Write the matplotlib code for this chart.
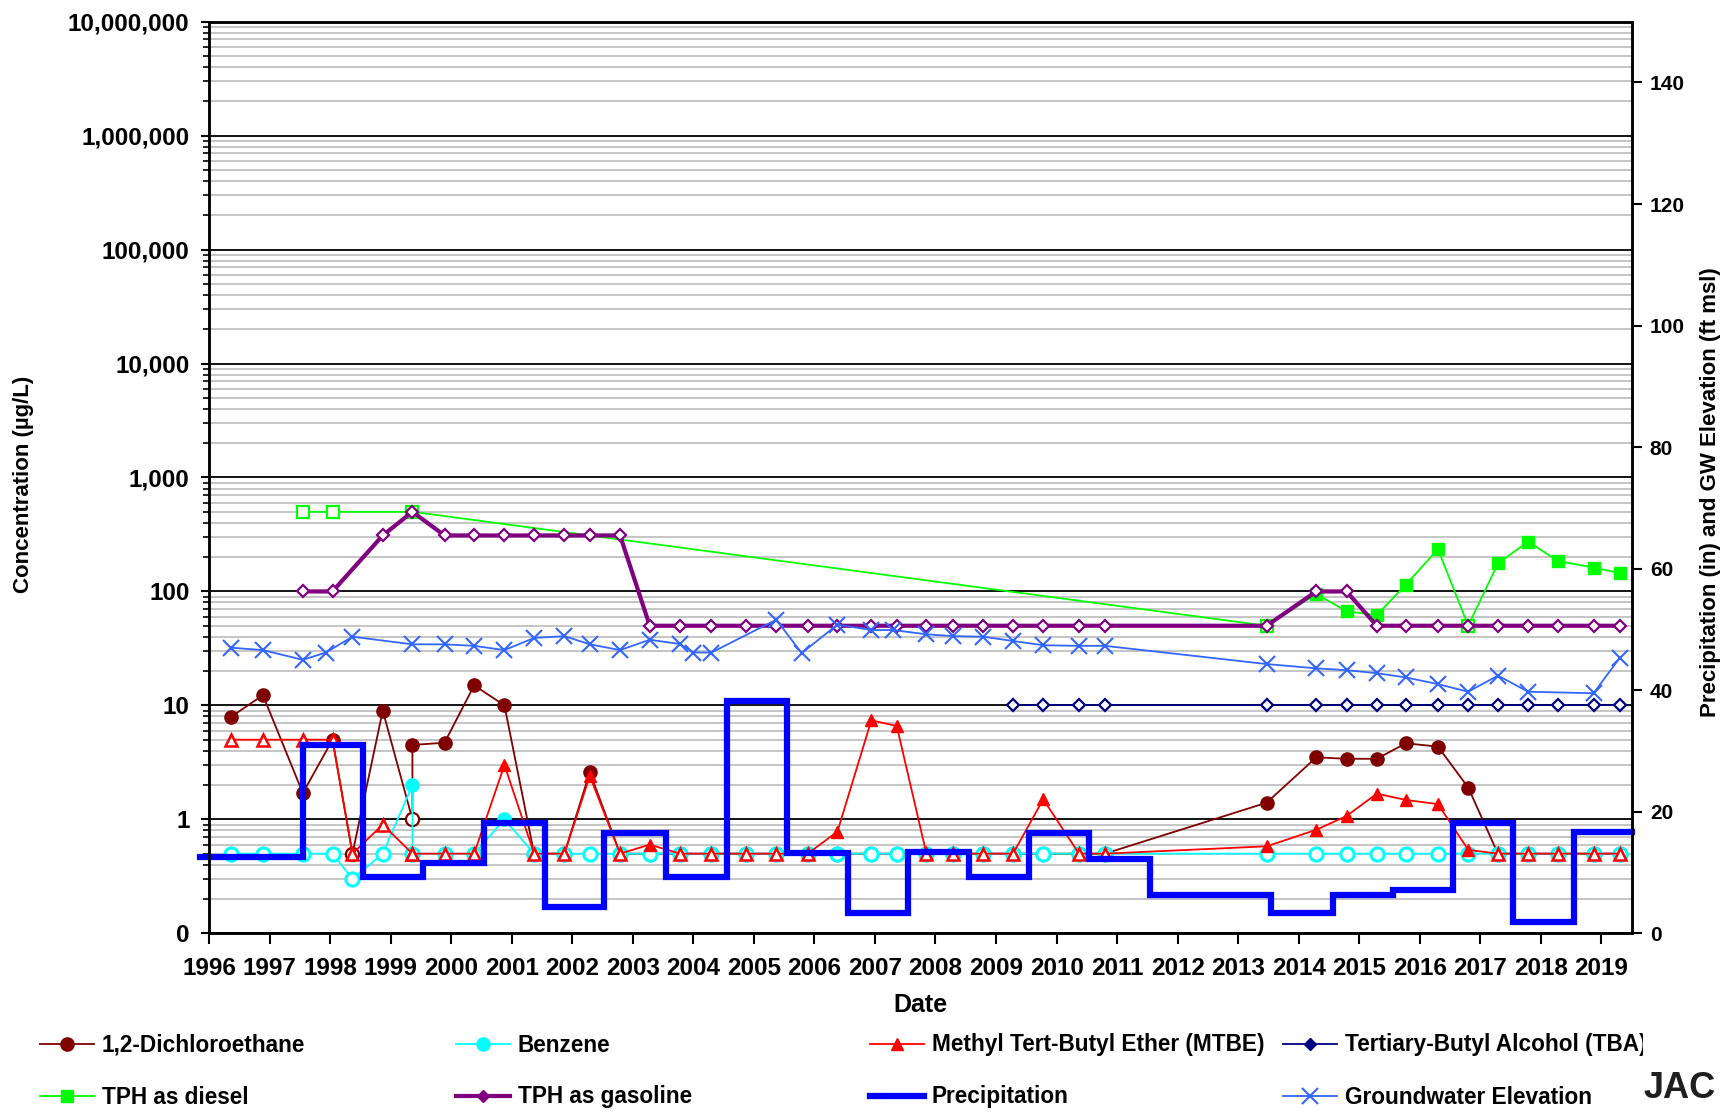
import matplotlib.pyplot as plt
from matplotlib.lines import Line2D
from matplotlib.patches import Rectangle
from matplotlib.ticker import FixedLocator, FixedFormatter, LogLocator, NullFormatter

plt.rcParams['font.family'] = ['Liberation Sans', 'DejaVu Sans']
plt.rcParams['font.weight'] = 'bold'
plt.rcParams['axes.labelweight'] = 'bold'

# sampling events (decimal years) shared by DCA, benzene and MTBE
dates = [1996.36, 1996.89, 1997.55, 1998.04, 1998.37, 1998.87, 1999.36, 1999.36,
         1999.89, 2000.38, 2000.88, 2001.37, 2001.87, 2002.29, 2002.79, 2003.28,
         2003.78, 2004.30, 2004.87, 2005.37, 2005.89, 2006.38, 2006.94, 2007.36,
         2007.85, 2008.29, 2008.79, 2009.28, 2009.78, 2010.37, 2010.80, 2013.47,
         2014.29, 2014.79, 2015.29, 2015.77, 2016.30, 2016.80, 2017.29, 2017.79,
         2018.28, 2018.87, 2019.30]

dca = [7.9, 12.3, 1.7, 5.0, 0.5, 9.0, 1.0, 4.5, 4.7, 15, 10, 0.5, 0.5, 2.6, 0.5,
       0.5, 0.5, 0.5, 0.5, 0.5, 0.5, 0.5, 0.5, 0.5, 0.5, 0.5, 0.5, 0.5, 0.5, 0.5, 0.5,
       1.4, 3.5, 3.4, 3.4, 4.65, 4.35, 1.9, 0.5, 0.5, 0.5, 0.5, 0.5]
dca_det = [1, 1, 1, 1, 0, 1, 0, 1, 1, 1, 1, 0, 0, 1, 0,
           0, 0, 0, 0, 0, 0, 0, 0, 0, 0, 0, 0, 0, 0, 0, 0,
           1, 1, 1, 1, 1, 1, 1, 0, 0, 0, 0, 0]

benzene = [0.5, 0.5, 0.5, 0.5, 0.3, 0.5, 2.0, 0.5, 0.5, 0.5, 1.0, 0.5, 0.5, 0.5, 0.5,
           0.5, 0.5, 0.5, 0.5, 0.5, 0.5, 0.5, 0.5, 0.5, 0.5, 0.5, 0.5, 0.5, 0.5, 0.5, 0.5,
           0.5, 0.5, 0.5, 0.5, 0.5, 0.5, 0.5, 0.5, 0.5, 0.5, 0.5, 0.5]
benzene_det = [0, 0, 0, 0, 0, 0, 1, 0, 0, 0, 1, 0, 0, 0, 0,
               0, 0, 0, 0, 0, 0, 0, 0, 0, 0, 0, 0, 0, 0, 0, 0,
               0, 0, 0, 0, 0, 0, 0, 0, 0, 0, 0, 0]

mtbe = [5, 5, 5, 5, 0.5, 0.9, 0.5, 0.5, 0.5, 0.5, 3.0, 0.5, 0.5, 2.4, 0.5,
        0.6, 0.5, 0.5, 0.5, 0.5, 0.5, 0.78, 7.4, 6.6, 0.5, 0.5, 0.5, 0.5, 1.5, 0.5, 0.5,
        0.58, 0.81, 1.07, 1.68, 1.48, 1.36, 0.54, 0.5, 0.5, 0.5, 0.5, 0.5]
mtbe_det = [0, 0, 0, 0, 0, 0, 0, 0, 0, 0, 1, 0, 0, 1, 0,
            1, 0, 0, 0, 0, 0, 1, 1, 1, 0, 0, 0, 0, 1, 0, 0,
            1, 1, 1, 1, 1, 1, 1, 0, 0, 0, 0, 0]

tba_dates = [2009.28, 2009.78, 2010.37, 2010.80, 2013.47, 2014.29, 2014.79, 2015.29,
             2015.77, 2016.30, 2016.80, 2017.29, 2017.79, 2018.28, 2018.87, 2019.30]
tba = [10, 10, 10, 10, 10, 10, 10, 10, 10, 10, 10, 10, 10, 10, 10, 10]
tba_det = [0, 0, 0, 0, 0, 0, 0, 0, 0, 0, 0, 0, 0, 0, 0, 0]

diesel_dates = [1997.55, 1998.04, 1999.36, 2013.47, 2014.29, 2014.79, 2015.29, 2015.77,
                2016.30, 2016.80, 2017.29, 2017.79, 2018.28, 2018.87, 2019.30]
diesel = [500, 500, 500, 50, 95, 67, 62, 115, 235, 50, 176, 274, 185, 162, 145]
diesel_det = [0, 0, 0, 0, 1, 1, 1, 1, 1, 0, 1, 1, 1, 1, 1]

gas_dates = [1997.55, 1998.04, 1998.87, 1999.36, 1999.89, 2000.38, 2000.88, 2001.37,
             2001.87, 2002.29, 2002.79, 2003.28, 2003.78, 2004.30, 2004.87, 2005.37,
             2005.89, 2006.38, 2006.94, 2007.36, 2007.85, 2008.29, 2008.79, 2009.28,
             2009.78, 2010.37, 2010.80, 2013.47, 2014.29, 2014.79, 2015.29, 2015.77,
             2016.30, 2016.80, 2017.29, 2017.79, 2018.28, 2018.87, 2019.30]
gasoline = [100, 100, 310, 500, 310, 310, 310, 310, 310, 310, 310, 50, 50, 50, 50, 50,
            50, 50, 50, 50, 50, 50, 50, 50, 50, 50, 50, 50, 100, 100, 50, 50,
            50, 50, 50, 50, 50, 50, 50]
gas_det = [0] * len(gasoline)

# water-year precipitation (in), step starts
precip_start = [1995.85, 1997.55, 1998.54, 1999.53, 2000.54, 2001.55, 2002.52, 2003.55,
                2004.55, 2005.54, 2006.56, 2007.54, 2008.56, 2009.55, 2010.54, 2011.54,
                2013.55, 2014.56, 2015.55, 2016.54, 2017.54, 2018.54, 2019.50]
precip = [12.5, 31.0, 9.2, 11.5, 18.1, 4.4, 16.45, 9.2, 38.3, 13.2, 3.3, 13.4,
          9.2, 16.45, 12.2, 6.3, 3.3, 6.3, 7.2, 18.1, 1.9, 16.7, 16.7]

gw_dates = [1996.36, 1996.89, 1997.55, 1997.93, 1998.37, 1999.36, 1999.89, 2000.38,
            2000.88, 2001.37, 2001.87, 2002.29, 2002.79, 2003.28, 2003.78, 2004.00,
            2004.30, 2005.37, 2005.79, 2006.38, 2006.94, 2007.30, 2007.85, 2008.29,
            2008.79, 2009.28, 2009.78, 2010.37, 2010.80, 2013.47, 2014.29, 2014.79,
            2015.29, 2015.77, 2016.30, 2016.80, 2017.29, 2017.79, 2018.87, 2019.30]
gw = [47.0, 46.6, 45.0, 46.2, 48.8, 47.55, 47.55, 47.3, 46.6, 48.6, 48.9, 47.55,
      46.6, 48.3, 47.6, 46.2, 46.2, 51.6, 46.1, 50.8, 49.9, 49.9, 49.2, 48.9,
      48.8, 48.1, 47.4, 47.3, 47.3, 44.3, 43.6, 43.3, 42.8, 42.1, 41.0, 39.75,
      42.4, 39.75, 39.5, 45.3]

years = list(range(1996, 2020))
conc_ticks = [0.1, 1, 10, 100, 1000, 10000, 100000, 1000000, 10000000]
conc_labels = ['0', '1', '10', '100', '1,000', '10,000', '100,000', '1,000,000', '10,000,000']
right_ticks = [0, 20, 40, 60, 80, 100, 120, 140]

W, H = 1723, 1118
fig = plt.figure(figsize=(W / 100, H / 100), dpi=100)
ax = fig.add_axes([209 / W, 1 - 933.3 / H, (1631.7 - 209) / W, (933.3 - 21.7) / H])
ax2 = ax.twinx()


def plot_series(axis, x, y, det, color, marker, ms, lw, mew):
    axis.plot(x, y, color=color, lw=lw)
    xf = [a for a, d in zip(x, det) if d]
    yf = [b for b, d in zip(y, det) if d]
    xh = [a for a, d in zip(x, det) if not d]
    yh = [b for b, d in zip(y, det) if not d]
    axis.plot(xf, yf, ls='none', marker=marker, ms=ms, mfc=color, mec=color, mew=1)
    axis.plot(xh, yh, ls='none', marker=marker, ms=ms, mfc='white', mec=color, mew=mew)
    return Line2D([], [], color=color, lw=lw, marker=marker, ms=ms, mfc=color, mec=color)


h_dca = plot_series(ax, dates, dca, dca_det, '#800000', 'o', 9.5, 1.3, 1.6)
h_ben = plot_series(ax, dates, benzene, benzene_det, '#00FFFF', 'o', 9.5, 1.3, 2.2)
h_mtbe = plot_series(ax, dates, mtbe, mtbe_det, '#FF0000', '^', 8.5, 1.3, 1.8)
h_tba = plot_series(ax, tba_dates, tba, tba_det, '#000080', 'D', 6, 1.3, 1.6)
h_die = plot_series(ax, diesel_dates, diesel, diesel_det, '#00FF00', 's', 8.5, 1.3, 1.6)
h_gas = plot_series(ax, gas_dates, gasoline, gas_det, '#800080', 'D', 6, 3.0, 1.6)

ax2.plot(precip_start, precip, drawstyle='steps-post', color='#0000FF', lw=4.5,
         solid_joinstyle='miter', clip_on=False)
h_pre = Line2D([], [], color='#0000FF', lw=4.5)
ax2.plot(gw_dates, gw, color='#3366FF', lw=1.3, marker='x', ms=12, mew=1.5)
h_gw = Line2D([], [], color='#3366FF', lw=1.3, marker='x', ms=12, mew=1.5)

# left (log) axis
ax.set_yscale('log')
ax.set_ylim(0.1, 1e7)
ax.set_xlim(1996, 2019.5)
ax.yaxis.set_major_locator(FixedLocator(conc_ticks))
ax.yaxis.set_major_formatter(FixedFormatter(conc_labels))
ax.yaxis.set_minor_locator(LogLocator(base=10, subs=(2, 3, 4, 5, 6, 7, 8, 9), numticks=20))
ax.yaxis.set_minor_formatter(NullFormatter())
ax.set_axisbelow(True)
ax.yaxis.grid(True, which='minor', color='#c0c0c0', lw=1.3)
ax.yaxis.grid(True, which='major', color='black', lw=1.3)
ax.set_xticks(years)
ax.set_xticklabels([str(y) for y in years])
ax.tick_params(axis='y', which='major', direction='out', length=6, width=1.5, labelsize=17.5, pad=8)
ax.tick_params(axis='y', which='minor', direction='out', length=4, width=1.2)
ax.tick_params(axis='x', direction='out', length=8, width=1.5, labelsize=17.5, pad=9)

# right axis
ax2.set_ylim(0, 150)
ax2.set_yticks(right_ticks)
ax2.tick_params(axis='y', direction='out', length=7, width=1.5, labelsize=15, pad=6)

for a in (ax, ax2):
    for s in a.spines.values():
        s.set_linewidth(1.8)

ax.set_xlabel('Date', fontsize=18, fontweight='bold')
ax.xaxis.set_label_coords(0.5, -0.066)
ax.set_ylabel('Concentration (µg/L)', fontsize=16, fontweight='bold')
ax.yaxis.set_label_coords(-0.123, 0.492)
ax2.set_ylabel('Precipitation (in) and GW Elevation (ft msl)', fontsize=16, fontweight='bold')
ax2.yaxis.set_label_coords(1.048, 0.484)

entries = [(h_dca, '1,2-Dichloroethane', 40, 1045),
           (h_ben, 'Benzene', 456, 1045),
           (h_mtbe, 'Methyl Tert-Butyl Ether (MTBE)', 870, 1045),
           (h_tba, 'Tertiary-Butyl Alcohol (TBA)', 1283, 1045),
           (h_die, 'TPH as diesel', 40, 1097),
           (h_gas, 'TPH as gasoline', 456, 1097),
           (h_pre, 'Precipitation', 870, 1097),
           (h_gw, 'Groundwater Elevation', 1283, 1097)]
for h, lab, x0, yc in entries:
    fig.legend(handles=[h], labels=[lab], loc='center left',
               bbox_to_anchor=(x0 / W, 1 - yc / H), frameon=False, borderpad=0,
               borderaxespad=0, handlelength=2.4, handletextpad=0.32, fontsize=16.3)

# logo fragment at the lower right corner
fig.patches.append(Rectangle((1643 / W, 0), 80 / W, 88 / H, transform=fig.transFigure,
                             facecolor='white', edgecolor='none', zorder=10))
fig.text(1644 / W, 1 - 1088 / H, 'JAC', fontsize=26, fontweight='heavy', color='#1f1f1f',
         va='center', ha='left', zorder=11)

fig.savefig('out.png', dpi=100)
